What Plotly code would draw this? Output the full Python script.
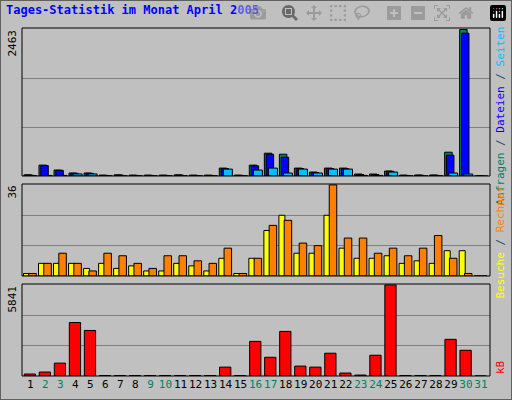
import plotly.graph_objects as go

days = list(range(1, 32))
weekend = [2, 3, 9, 10, 16, 17, 23, 24, 30, 31]

# Anfragen / Dateien / Seiten
anfragen = [20, 183, 100, 50, 50, 15, 20, 15, 15, 15, 20, 15, 15, 133, 15, 183, 383, 366, 133, 66, 133, 133, 33, 33, 83, 15, 17, 17, 400, 2463, 0]
dateien = [15, 175, 95, 45, 45, 10, 15, 10, 10, 10, 15, 10, 10, 125, 10, 170, 366, 316, 125, 60, 125, 125, 25, 25, 80, 10, 12, 12, 350, 2400, 0]
seiten = [5, 10, 10, 35, 35, 5, 5, 5, 5, 5, 5, 5, 5, 116, 5, 100, 133, 50, 116, 50, 116, 116, 10, 10, 66, 5, 5, 5, 50, 33, 0]
# Besuche / Rechner
besuche = [1, 5, 5, 5, 3, 5, 3, 4, 2, 2, 5, 4, 2, 7, 1, 7, 18, 24, 9, 9, 24, 11, 7, 7, 8, 5, 6, 5, 10, 10, 0]
rechner = [1, 5, 9, 5, 2, 9, 8, 5, 3, 8, 8, 6, 5, 11, 1, 7, 20, 22, 13, 12, 36, 15, 15, 9, 11, 8, 11, 16, 7, 1, 0]
# kB
kb = [127, 254, 825, 3430, 2920, 30, 30, 30, 30, 30, 30, 30, 30, 570, 30, 2220, 1200, 2860, 635, 570, 1460, 190, 60, 1330, 5841, 30, 30, 30, 2350, 1650, 0]

W, H = 512, 400
x0, x1 = 22 / W, 490 / W
panels = [(28, 176), (184, 276), (284, 376)]
def dom(p):
    return [1 - p[1] / H, 1 - p[0] / H]

fig = go.Figure()
line = dict(color="black", width=1)
fig.add_trace(go.Bar(x=days, y=anfragen, offset=-0.42, width=0.5, marker=dict(color="#00805F", line=line), xaxis="x", yaxis="y"))
fig.add_trace(go.Bar(x=days, y=dateien, offset=-0.3, width=0.5, marker=dict(color="#0000FF", line=line), xaxis="x", yaxis="y"))
fig.add_trace(go.Bar(x=days, y=seiten, offset=-0.15, width=0.6, marker=dict(color="#00C0FF", line=line), xaxis="x", yaxis="y"))
fig.add_trace(go.Bar(x=days, y=besuche, offset=-0.45, width=0.4, marker=dict(color="#FFFF00", line=line), xaxis="x2", yaxis="y2"))
fig.add_trace(go.Bar(x=days, y=rechner, offset=-0.1, width=0.5, marker=dict(color="#FF8000", line=line), xaxis="x2", yaxis="y2"))
fig.add_trace(go.Bar(x=days, y=kb, offset=-0.4, width=0.75, marker=dict(color="#FF0000", line=line), xaxis="x3", yaxis="y3"))

maxes = [max(anfragen), max(rechner), max(kb)]
ax = dict(range=[0.45, 31.6], domain=[x0, x1], showticklabels=False, showgrid=False, zeroline=False, fixedrange=True)
for i, (p, m) in enumerate(zip(panels, maxes)):
    s = "" if i == 0 else str(i + 1)
    fig.layout["xaxis" + s] = dict(ax, anchor="y" + s)
    fig.layout["yaxis" + s] = dict(domain=dom(p), range=[0, m * 1.01], anchor="x" + s,
                                   tickvals=[m / 3, 2 * m / 3], showticklabels=False,
                                   gridcolor="#808080", gridwidth=1, zeroline=False)
    fig.add_shape(type="rect", xref="paper", yref="paper", x0=x0, x1=x1, y0=dom(p)[0], y1=dom(p)[1],
                  line=dict(color="black", width=1))
    fig.add_annotation(x=12 / W, y=dom(p)[1], xref="paper", yref="paper", text=str(m), textangle=-90,
                       showarrow=False, xanchor="center", yanchor="top", font=dict(size=11, color="black"))

fig.layout.xaxis3.update(showticklabels=True, tickvals=days, ticks="", tickangle=0,
                         ticktext=[f'<span style="color:#00805F">{d}</span>' if d in weekend else str(d) for d in days],
                         tickfont=dict(size=11, color="black"))

fig.add_annotation(x=500 / W, y=1 - 25 / H, xref="paper", yref="paper", textangle=-90, showarrow=False,
                   xanchor="center", yanchor="top", font=dict(size=11),
                   text='<span style="color:#00805F">Anfragen</span> / <span style="color:#0000FF">Dateien</span> / <span style="color:#00C0FF">Seiten</span>')
fig.add_annotation(x=500 / W, y=1 - 184 / H, xref="paper", yref="paper", textangle=-90, showarrow=False,
                   xanchor="center", yanchor="top", font=dict(size=11),
                   text='<span style="color:#FFFF00">Besuche</span> / <span style="color:#FF8000">Rechner</span>')
fig.add_annotation(x=500 / W, y=1 - 376 / H, xref="paper", yref="paper", textangle=-90, showarrow=False,
                   xanchor="center", yanchor="bottom", font=dict(size=11, color="#FF0000"), text="kB")
fig.add_shape(type="rect", xref="paper", yref="paper", x0=0, x1=1, y0=0, y1=1, line=dict(color="#606060", width=2))

fig.update_layout(
    width=W, height=H, margin=dict(l=0, r=0, t=0, b=0),
    paper_bgcolor="#C0C0C0", plot_bgcolor="#C0C0C0", showlegend=False, barmode="overlay",
    font=dict(family="DejaVu Sans Mono", size=11),
    title=dict(text="<b>Tages-Statistik im Monat April 2005</b>", x=6 / W, y=1 - 10 / H,
               xanchor="left", yanchor="middle", font=dict(size=12, color="#0000FF")),
)
fig.write_html("out.html", post_script="document.body.style.margin='0';document.body.style.overflow='hidden';")
